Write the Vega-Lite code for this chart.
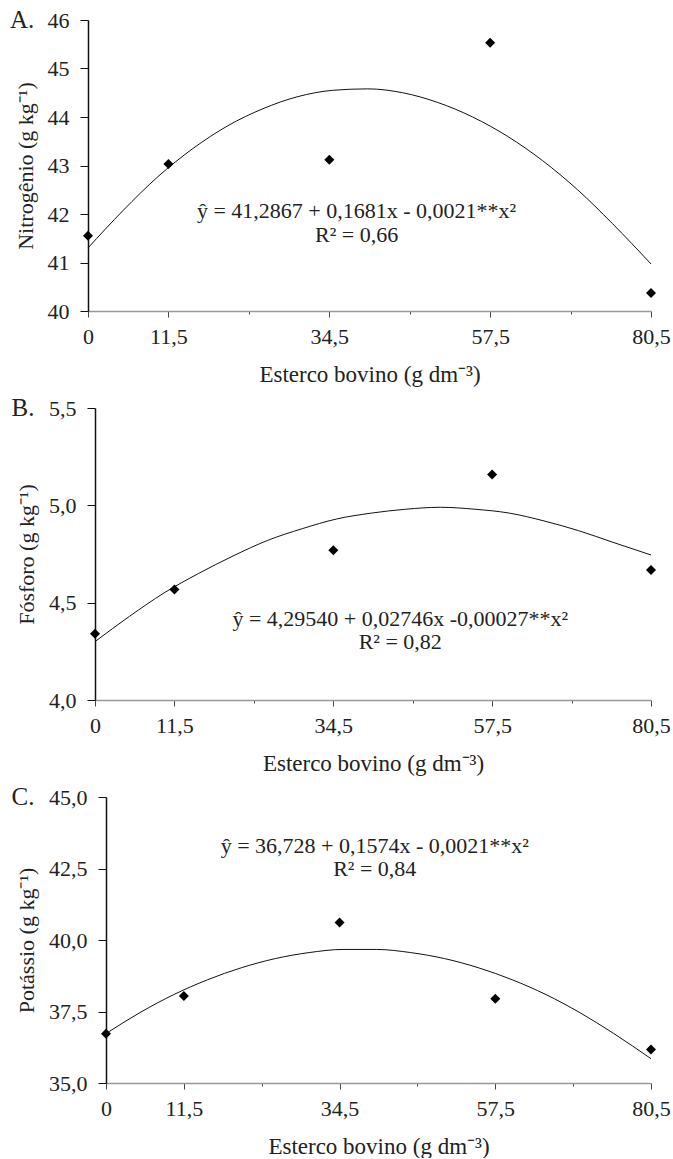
{
  "$schema": "https://vega.github.io/schema/vega-lite/v6.json",
  "background": "white",
  "padding": {"left": 10, "top": 8, "right": 10, "bottom": 0},
  "columns": 1,
  "spacing": 10,
  "config": {
    "view": {"stroke": null},
    "font": "Liberation Serif",
    "axis": {
      "labelFont": "Liberation Serif",
      "titleFont": "Liberation Serif",
      "labelFontSize": 22,
      "titleFontSize": 22,
      "labelColor": "#222",
      "titleColor": "#222",
      "titleFontWeight": "normal",
      "grid": false,
      "labelFlush": false,
      "labelOverlap": false
    },
    "axisX": {
      "labelPadding": 9,
      "titlePadding": 16,
      "titleFontSize": 23,
      "domainColor": "#999",
      "domainWidth": 1.5,
      "tickColor": "#444"
    },
    "axisY": {
      "tickSize": 8,
      "labelPadding": 11,
      "titlePadding": 10,
      "domainColor": "#111",
      "domainWidth": 1.5,
      "tickColor": "#111"
    },
    "title": {"font": "Liberation Serif", "fontSize": 25, "fontWeight": "normal", "color": "#222", "anchor": "start", "frame": "bounds", "offset": 0, "baseline": "alphabetic"}
  },
  "concat": [
    {
      "title": {"text": "A.", "dy": 28, "dx": -4},
      "width": 563,
      "height": 291,
      "layer": [
        {
          "data": {"values": [
            {"x": 0, "y": 41.3}, {"x": 5, "y": 42.07}, {"x": 10, "y": 42.77}, {"x": 15, "y": 43.35},
            {"x": 20, "y": 43.82}, {"x": 25, "y": 44.17}, {"x": 30, "y": 44.42}, {"x": 35, "y": 44.55},
            {"x": 40, "y": 44.58}, {"x": 45, "y": 44.5}, {"x": 50, "y": 44.3}, {"x": 55, "y": 44.0},
            {"x": 60, "y": 43.6}, {"x": 65, "y": 43.1}, {"x": 70, "y": 42.5}, {"x": 75, "y": 41.8},
            {"x": 80.5, "y": 40.97}
          ]},
          "mark": {"type": "line", "color": "#111", "strokeWidth": 1, "interpolate": "monotone"},
          "encoding": {
            "x": {"field": "x", "type": "quantitative", "scale": {"domain": [0, 80.5], "nice": false, "zero": false},
              "axis": {"title": "Esterco bovino (g dm⁻³)", "values": [0, 11.5, 23, 34.5, 46, 57.5, 69, 80.5],
                "labelExpr": "datum.value == 23 || datum.value == 46 || datum.value == 69 ? '' : replace(format(datum.value, '.1~f'), '.', ',')",
                "tickSize": {"condition": {"test": "datum.value == 23 || datum.value == 46 || datum.value == 69", "value": 3}, "value": 6}}},
            "y": {"field": "y", "type": "quantitative", "scale": {"domain": [40, 46], "nice": false, "zero": false}, "axis": {"title": "Nitrogênio (g kg⁻¹)", "values": [40, 41, 42, 43, 44, 45, 46], "format": "d"}}
          }
        },
        {
          "data": {"values": [
            {"x": 0, "y": 41.55}, {"x": 11.5, "y": 43.03}, {"x": 34.5, "y": 43.12}, {"x": 57.5, "y": 45.53}, {"x": 80.5, "y": 40.37}
          ]},
          "mark": {"type": "point", "shape": "diamond", "filled": true, "color": "#000", "size": 100, "opacity": 1},
          "encoding": {
            "x": {"field": "x", "type": "quantitative"},
            "y": {"field": "y", "type": "quantitative"}
          }
        },
        {
          "data": {"values": [{"t": "ŷ = 41,2867 + 0,1681x - 0,0021**x²"}]},
          "mark": {"type": "text", "fontSize": 22, "font": "Liberation Serif", "color": "#222", "baseline": "middle", "align": "center"},
          "encoding": {"x": {"datum": 38.4}, "y": {"datum": 42.07}, "text": {"field": "t"}}
        },
        {
          "data": {"values": [{"t": "R² = 0,66"}]},
          "mark": {"type": "text", "fontSize": 22, "font": "Liberation Serif", "color": "#222", "baseline": "middle", "align": "center"},
          "encoding": {"x": {"datum": 38.4}, "y": {"datum": 41.56}, "text": {"field": "t"}}
        }
      ]
    },
    {
      "title": {"text": "B.", "dy": 28, "dx": -4},
      "width": 563,
      "height": 292,
      "layer": [
        {
          "data": {"values": [
            {"x": 0, "y": 4.3}, {"x": 5, "y": 4.43}, {"x": 10, "y": 4.55}, {"x": 15, "y": 4.65},
            {"x": 20, "y": 4.74}, {"x": 25, "y": 4.82}, {"x": 30, "y": 4.88}, {"x": 35, "y": 4.93},
            {"x": 40, "y": 4.96}, {"x": 45, "y": 4.98}, {"x": 50, "y": 4.99}, {"x": 55, "y": 4.98},
            {"x": 60, "y": 4.96}, {"x": 65, "y": 4.92}, {"x": 70, "y": 4.87}, {"x": 75, "y": 4.81},
            {"x": 80.5, "y": 4.745}
          ]},
          "mark": {"type": "line", "color": "#111", "strokeWidth": 1, "interpolate": "monotone"},
          "encoding": {
            "x": {"field": "x", "type": "quantitative", "scale": {"domain": [0, 80.5], "nice": false, "zero": false, "range": [7, 563]},
              "axis": {"title": "Esterco bovino (g dm⁻³)", "values": [0, 11.5, 23, 34.5, 46, 57.5, 69, 80.5],
                "labelExpr": "datum.value == 23 || datum.value == 46 || datum.value == 69 ? '' : replace(format(datum.value, '.1~f'), '.', ',')",
                "tickSize": {"condition": {"test": "datum.value == 23 || datum.value == 46 || datum.value == 69", "value": 3}, "value": 6}}},
            "y": {"field": "y", "type": "quantitative", "scale": {"domain": [4, 5.5], "nice": false, "zero": false}, "axis": {"title": "Fósforo (g kg⁻¹)", "offset": -7, "values": [4, 4.5, 5, 5.5], "labelExpr": "replace(format(datum.value, '.1f'), '.', ',')"}}
          }
        },
        {
          "data": {"values": [
            {"x": 0, "y": 4.34}, {"x": 11.5, "y": 4.568}, {"x": 34.5, "y": 4.769}, {"x": 57.5, "y": 5.159}, {"x": 80.5, "y": 4.668}
          ]},
          "mark": {"type": "point", "shape": "diamond", "filled": true, "color": "#000", "size": 100, "opacity": 1},
          "encoding": {
            "x": {"field": "x", "type": "quantitative"},
            "y": {"field": "y", "type": "quantitative"}
          }
        },
        {
          "data": {"values": [{"t": "ŷ = 4,29540 + 0,02746x -0,00027**x²"}]},
          "mark": {"type": "text", "fontSize": 22, "font": "Liberation Serif", "color": "#222", "baseline": "middle", "align": "center"},
          "encoding": {"x": {"datum": 44.2}, "y": {"datum": 4.414}, "text": {"field": "t"}}
        },
        {
          "data": {"values": [{"t": "R² = 0,82"}]},
          "mark": {"type": "text", "fontSize": 22, "font": "Liberation Serif", "color": "#222", "baseline": "middle", "align": "center"},
          "encoding": {"x": {"datum": 44.2}, "y": {"datum": 4.30}, "text": {"field": "t"}}
        }
      ]
    },
    {
      "title": {"text": "C.", "dy": 28, "dx": -4},
      "width": 563,
      "height": 286,
      "layer": [
        {
          "data": {"values": [
            {"x": 0, "y": 36.73}, {"x": 5, "y": 37.46}, {"x": 10, "y": 38.09}, {"x": 15, "y": 38.61},
            {"x": 20, "y": 39.03}, {"x": 25, "y": 39.35}, {"x": 30, "y": 39.56}, {"x": 35, "y": 39.67},
            {"x": 40, "y": 39.67}, {"x": 45, "y": 39.56}, {"x": 50, "y": 39.35}, {"x": 55, "y": 39.03},
            {"x": 60, "y": 38.61}, {"x": 65, "y": 38.09}, {"x": 70, "y": 37.46}, {"x": 75, "y": 36.73},
            {"x": 80.5, "y": 35.85}
          ]},
          "mark": {"type": "line", "color": "#111", "strokeWidth": 1, "interpolate": "monotone"},
          "encoding": {
            "x": {"field": "x", "type": "quantitative", "scale": {"domain": [0, 80.5], "nice": false, "zero": false, "range": [18, 563]},
              "axis": {"title": "Esterco bovino (g dm⁻³)", "values": [0, 11.5, 23, 34.5, 46, 57.5, 69, 80.5],
                "labelExpr": "datum.value == 23 || datum.value == 46 || datum.value == 69 ? '' : replace(format(datum.value, '.1~f'), '.', ',')",
                "tickSize": {"condition": {"test": "datum.value == 23 || datum.value == 46 || datum.value == 69", "value": 3}, "value": 6}}},
            "y": {"field": "y", "type": "quantitative", "scale": {"domain": [35, 45], "nice": false, "zero": false}, "axis": {"title": "Potássio (g kg⁻¹)", "offset": -18, "values": [35, 37.5, 40, 42.5, 45], "labelExpr": "replace(format(datum.value, '.1f'), '.', ',')"}}
          }
        },
        {
          "data": {"values": [
            {"x": 0, "y": 36.72}, {"x": 11.5, "y": 38.04}, {"x": 34.5, "y": 40.61}, {"x": 57.5, "y": 37.95}, {"x": 80.5, "y": 36.17}
          ]},
          "mark": {"type": "point", "shape": "diamond", "filled": true, "color": "#000", "size": 100, "opacity": 1},
          "encoding": {
            "x": {"field": "x", "type": "quantitative"},
            "y": {"field": "y", "type": "quantitative"}
          }
        },
        {
          "data": {"values": [{"t": "ŷ = 36,728 + 0,1574x - 0,0021**x²"}]},
          "mark": {"type": "text", "fontSize": 22, "font": "Liberation Serif", "color": "#222", "baseline": "middle", "align": "center"},
          "encoding": {"x": {"datum": 39.7}, "y": {"datum": 43.27}, "text": {"field": "t"}}
        },
        {
          "data": {"values": [{"t": "R² = 0,84"}]},
          "mark": {"type": "text", "fontSize": 22, "font": "Liberation Serif", "color": "#222", "baseline": "middle", "align": "center"},
          "encoding": {"x": {"datum": 39.7}, "y": {"datum": 42.5}, "text": {"field": "t"}}
        }
      ]
    }
  ]
}
